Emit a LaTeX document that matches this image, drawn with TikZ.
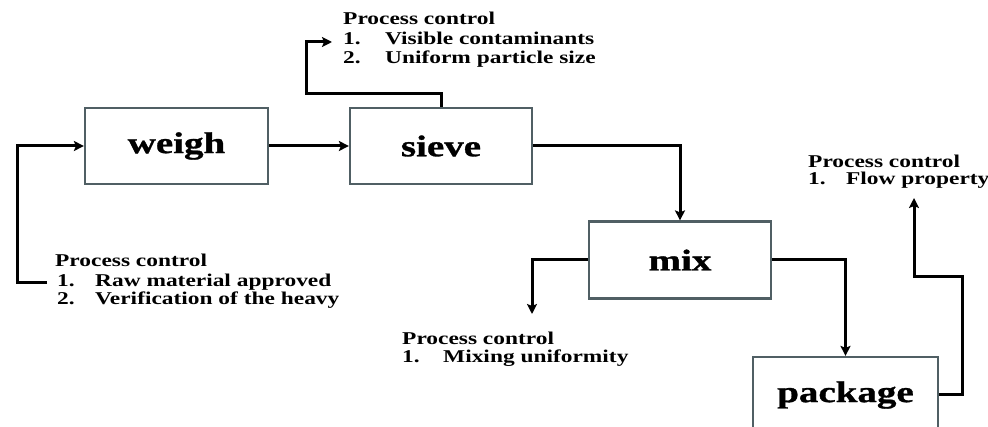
\documentclass[tikz,border=0pt]{standalone}
\usepackage{fontspec}
\setmainfont{Liberation Serif}
\newfontfamily\lblfont{Liberation Serif}[FakeStretch=1.3]
\newfontfamily\boxfont{Liberation Serif}[FakeStretch=1.3,FakeBold=1]
\usetikzlibrary{arrows.meta}
\definecolor{boxgray}{RGB}{80,95,100}
\tikzset{
  stepbox/.style={draw=boxgray, line width=2.2pt, inner sep=0pt, font=\boxfont\bfseries\fontsize{30}{32}\selectfont},
  arr/.style={line width=3pt, -{Stealth[length=10pt,width=10pt,inset=2pt]}},
  pctext/.style={anchor=base west, inner sep=0pt, font=\lblfont\bfseries\fontsize{18}{19}\selectfont},
}
\begin{document}
\begin{tikzpicture}[x=1pt,y=-1pt]
\useasboundingbox (0,0) rectangle (988,427);
\clip (0,0) rectangle (988,427);
% boxes
\node[stepbox, minimum width=183pt, minimum height=76pt] (weigh) at (176.5,146) {weigh};
\node[stepbox, minimum width=182pt, minimum height=76pt] (sieve) at (441,146) {sieve};
\node[stepbox, minimum width=182pt, minimum height=77pt] (mix) at (680,260) {mix};
\node[stepbox, minimum width=185pt, minimum height=76pt] (package) at (845.5,395) {package};
% texts
\node[pctext] (t1a) at (55,267) {Process control};
\node[pctext] (t1b) at (57,287) {\makebox[38pt][l]{1.}Raw material approved};
\node[pctext] (t1c) at (57,305) {\makebox[38pt][l]{2.}Verification of the heavy};
\node[pctext] (t2a) at (343,25) {Process control};
\node[pctext] (t2b) at (343,45) {\makebox[42pt][l]{1.}Visible contaminants};
\node[pctext] (t2c) at (343,64) {\makebox[42pt][l]{2.}Uniform particle size};
\node[pctext] (t3a) at (402,345) {Process control};
\node[pctext] (t3b) at (402,363) {\makebox[41pt][l]{1.}Mixing uniformity};
\node[pctext] (t4a) at (808,168) {Process control};
\node[pctext] (t4b) at (808,185) {\makebox[38pt][l]{1.}Flow property};
% coordinates
\coordinate (lstart) at (47,283);
\coordinate (lcorner) at (17,283);
\coordinate (sieveturn) at (306,94);
\coordinate (sievetip) at (332,42);
\coordinate (mixtip) at (532,314);
\coordinate (pkturn) at (962,277);
\coordinate (pktip) at (914,198);
% connectors
\draw[arr] (lstart) -- (lcorner) |- (weigh.west);
\draw[arr] (weigh.east) -- (sieve.west);
\draw[arr] (sieve.north) |- (sieveturn) |- (sievetip);
\draw[arr] (sieve.east) -| (mix.north);
\draw[arr] (mix.west) -| (mixtip);
\draw[arr] (mix.east) -| (package.north);
\draw[arr] (package.east) -| (pkturn) -| (pktip);
\end{tikzpicture}
\end{document}
